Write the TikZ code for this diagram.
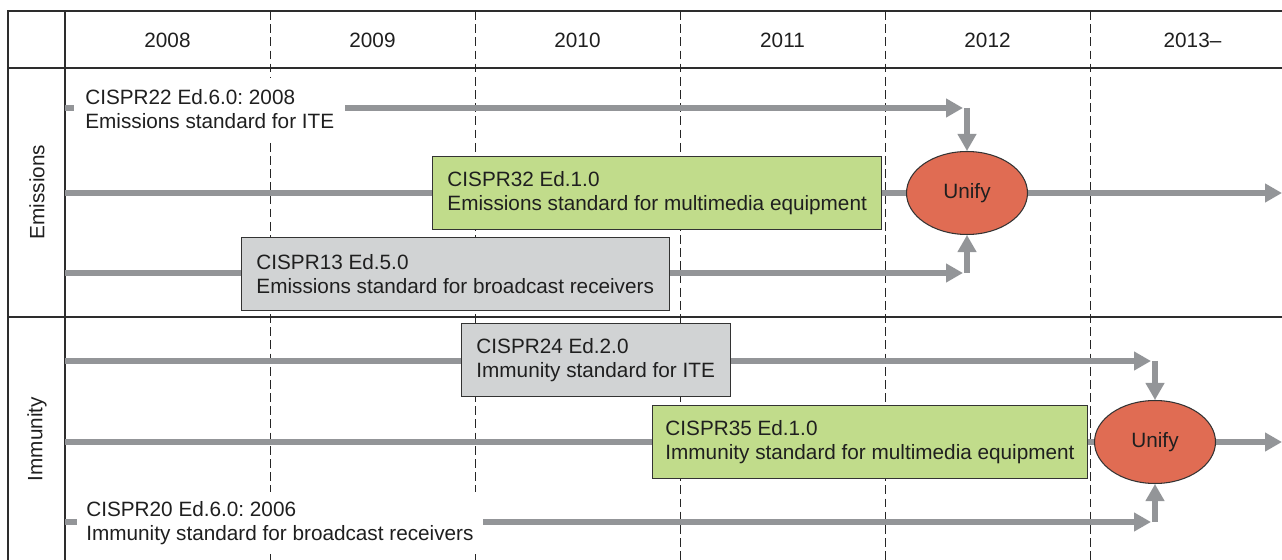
\documentclass[tikz,border=0pt]{standalone}
\usepackage{fontspec}
\setmainfont{Liberation Sans}
\usetikzlibrary{arrows.meta,positioning,shapes.geometric,backgrounds}
\definecolor{flowgray}{RGB}{147,149,152}
\definecolor{boxgray}{RGB}{209,211,212}
\definecolor{boxgreen}{RGB}{193,220,139}
\definecolor{unifyred}{RGB}{224,108,83}
\definecolor{framegray}{RGB}{45,45,45}
\frenchspacing

\begin{document}
\begin{tikzpicture}[x=0.02cm,y=-0.02cm,
  font=\fontsize{11.8}{13.7}\selectfont,text=black!88,
  frame/.style={draw=framegray,line width=0.8pt},
  yeargrid/.style={draw=black!85,line width=0.55pt,dash pattern=on 5pt off 2.5pt},
  track/.style={draw=flowgray,line width=3.4pt},
  flow/.style={track,-{Triangle[length=0.34cm,width=0.36cm]}},
  stdbox/.style={draw=black!80,line width=0.5pt,align=left,anchor=west,
    inner xsep=0.3cm,minimum height=1.46cm},
  oldstd/.style={fill=white,align=left,anchor=west,inner xsep=0.22cm,
    minimum height=1.24cm},
  unify/.style={ellipse,draw=black!80,line width=0.6pt,fill=unifyred,
    minimum width=2.42cm,minimum height=1.66cm}]
\useasboundingbox (0,0) rectangle (1282,560);

% Year header
\foreach \j/\yr in {0/2008,1/2009,2/2010,3/2011,4/2012,5/2013–} {
  \node (yr\j) at (167.5+\j*205, 40) {\yr};
}

% Section labels
\node[rotate=90] (emis) at (37,192) {Emissions};
\node[rotate=90] (immu) at (37,439) {Immunity};

% Standards
\node[oldstd] (cispr22) at (74,109)
  {CISPR22 Ed.6.0: 2008\\Emissions standard for ITE};
\node[stdbox,fill=boxgreen] (cispr32) at (432,193)
  {CISPR32 Ed.1.0\\Emissions standard for multimedia equipment};
\node[stdbox,fill=boxgray] (cispr13) at (241,274)
  {CISPR13 Ed.5.0\\Emissions standard for broadcast receivers};
\node[stdbox,fill=boxgray] (cispr24) at (461,360)
  {CISPR24 Ed.2.0\\Immunity standard for ITE};
\node[stdbox,fill=boxgreen,inner xsep=0.26cm] (cispr35) at (652,442)
  {CISPR35 Ed.1.0\\Immunity standard for multimedia equipment};
\node[oldstd,inner xsep=0.18cm] (cispr20) at (77,523)
  {CISPR20 Ed.6.0: 2006\\Immunity standard for broadcast receivers};

% Unify points
\node[unify] (unifyE) at (967,193) {Unify};
\node[unify] (unifyI) at (1155,442) {Unify};

% Track ends
\coordinate (e1in) at (65,108);  \coordinate (e1join) at (967,108);
\coordinate (e2in) at (65,193);  \coordinate (e2out) at (1282,193);
\coordinate (e3in) at (65,273);  \coordinate (e3join) at (967,273);
\coordinate (i1in) at (65,361);  \coordinate (i1join) at (1155,361);
\coordinate (i2in) at (65,442);  \coordinate (i2out) at (1282,442);
\coordinate (i3in) at (65,522);  \coordinate (i3join) at (1155,522);

\begin{scope}[on background layer]
% Table frame
\draw[frame] (1282,11) -- (8,11) -- (8,560);
\draw[frame] (65,11) -- (65,560);
\draw[frame] (8,68) -- (1282,68);
\draw[frame] (8,317) -- (1282,317);
\foreach \x in {270,475,680,885,1090}
  \draw[yeargrid] (\x,11) -- (\x,560);

% Emissions
\draw[flow] (e1in) -- ([xshift=-0.08cm]e1join);
\draw[flow] (e1join) -- (unifyE.north);
\draw[track] (e2in) -- (unifyE.west);
\draw[flow] (unifyE.east) -- (e2out);
\draw[flow] (e3in) -- ([xshift=-0.08cm]e3join);
\draw[flow] (e3join) -- (unifyE.south);

% Immunity
\draw[flow] (i1in) -- ([xshift=-0.08cm]i1join);
\draw[flow] (i1join) -- (unifyI.north);
\draw[track] (i2in) -- (unifyI.west);
\draw[flow] (unifyI.east) -- (i2out);
\draw[flow] (i3in) -- ([xshift=-0.08cm]i3join);
\draw[flow] (i3join) -- (unifyI.south);
\end{scope}
\end{tikzpicture}
\end{document}
